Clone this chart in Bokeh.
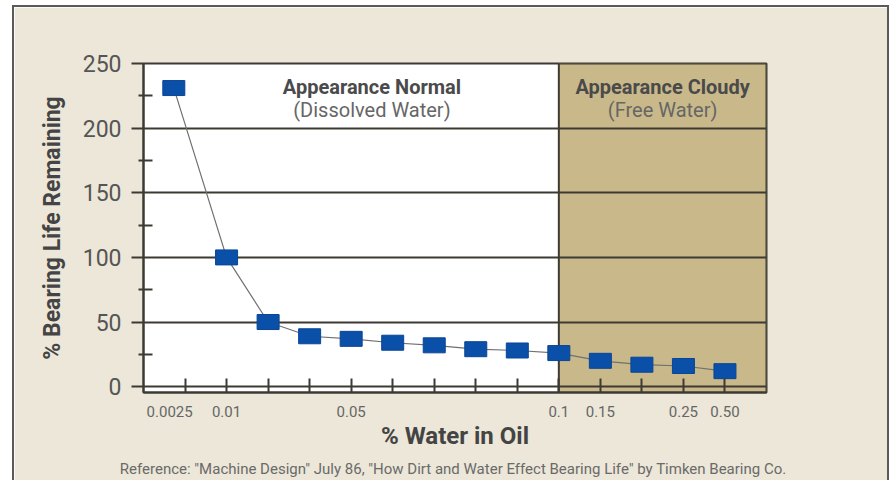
from bokeh.plotting import figure
from bokeh.models import FixedTicker, Range1d, Title
from bokeh.core.properties import value
from bokeh.embed import file_html
from bokeh.resources import INLINE

# ---- data ----
point_pos = [-0.27, 1, 2, 3, 4, 5, 6, 7, 8, 9, 10, 11, 12, 13]
life_remaining = [231, 100, 50, 39, 37, 34, 32, 29, 28, 26, 20, 17, 16, 12]
tick_pos = list(range(14))
label_pos = [-0.37, 1, 4, 9, 10, 12, 13]
label_text = ["0.0025", "0.01", "0.05", "0.1", "0.15", "0.25", "0.50"]
free_water_start = 9
y_ticks = [0, 50, 100, 150, 200, 250]
y_minor = [25, 75, 125, 175, 225]
region_x = [4.5, 11.5]
region_titles = ["Appearance Normal", "Appearance Cloudy"]
region_subtitles = ["(Dissolved Water)", "(Free Water)"]

FONT = "Roboto"
DARK = "#3d3a33"
X0, X1 = -1, 14
Y0, Y1 = -4.5, 250

p = figure(width=877, height=475, x_range=Range1d(X0, X1), y_range=Range1d(Y0, Y1),
           output_backend="svg", toolbar_location=None,
           min_border_left=129, min_border_top=56, min_border_right=125, min_border_bottom=89)
p.styles = {"margin-left": "12px", "margin-top": "5px",
            "border-left": "2px solid #5a5a5a", "border-top": "2px solid #5a5a5a",
            "border-right": "2px solid #5a5a5a"}
p.background_fill_color = "white"
p.border_fill_color = "#ECE7D8"
p.outline_line_color = DARK
p.outline_line_width = 2

# shaded free-water region
p.quad(left=[free_water_start], right=[X1], bottom=[Y0], top=[Y1],
       fill_color="#C9B98A", line_color=DARK, line_width=2, level="image")

p.xgrid.visible = False
p.ygrid.ticker = FixedTicker(ticks=y_ticks)
p.ygrid.grid_line_color = DARK
p.ygrid.grid_line_width = 2

# y axis
ya = p.yaxis[0]
ya.ticker = FixedTicker(ticks=y_ticks, minor_ticks=y_minor)
ya.axis_line_color = DARK
ya.axis_line_width = 2
ya.major_tick_line_color = DARK
ya.major_tick_line_width = 2
ya.major_tick_out = 12
ya.major_tick_in = 0
ya.minor_tick_line_color = DARK
ya.minor_tick_line_width = 2
ya.minor_tick_out = 5
ya.minor_tick_in = 9
ya.major_label_text_font = FONT
ya.major_label_text_font_size = "23px"
ya.major_label_text_color = "#555555"
ya.major_label_standoff = 10
ya.axis_label = "% Bearing Life Remaining"
ya.axis_label_text_font = FONT
ya.axis_label_text_font_style = "bold"
ya.axis_label_text_font_size = "23px"
ya.axis_label_text_color = "#444444"
ya.axis_label_standoff = 14

# x axis
xa = p.xaxis[0]
xa.ticker = FixedTicker(ticks=label_pos, minor_ticks=tick_pos)
xa.major_label_overrides = {pos: txt for pos, txt in zip(label_pos, label_text)}
xa.axis_line_color = DARK
xa.axis_line_width = 2
xa.major_tick_in = 0
xa.major_tick_out = 0
xa.minor_tick_in = 14
xa.minor_tick_out = 0
xa.minor_tick_line_color = DARK
xa.minor_tick_line_width = 2
xa.major_label_text_font = FONT
xa.major_label_text_font_size = "15px"
xa.major_label_text_color = "#666666"
xa.major_label_standoff = 13
xa.axis_label = "% Water in Oil"
xa.axis_label_text_font = FONT
xa.axis_label_text_font_style = "bold"
xa.axis_label_text_font_size = "24px"
xa.axis_label_text_color = "#444444"
xa.axis_label_standoff = 2

# data
p.line(point_pos, life_remaining, line_color="#707070", line_width=1.2)
p.rect(point_pos, life_remaining, width=22, height=15, width_units="screen",
       height_units="screen", fill_color="#0A50A8", line_color="#0A4595", line_width=1)

# region labels
p.text(x=region_x, y=[231.5, 231.5], text=region_titles, text_align="center",
       text_baseline="middle", text_font=value(FONT), text_font_style="bold",
       text_font_size="20px", text_color="#4a4a4a")
p.text(x=region_x, y=[213.8, 213.8], text=region_subtitles, text_align="center",
       text_baseline="middle", text_font=value(FONT),
       text_font_size="20px", text_color="#666666")

# footnote
foot = Title(text='Reference:  "Machine Design" July 86, "How Dirt and Water Effect Bearing Life" by Timken Bearing Co.',
             align="center", text_font=FONT, text_font_size="15px",
             text_font_style="normal", text_color="#6a6a6a")
p.add_layout(foot, "below")

open("out.html", "w").write(file_html(p, INLINE))
